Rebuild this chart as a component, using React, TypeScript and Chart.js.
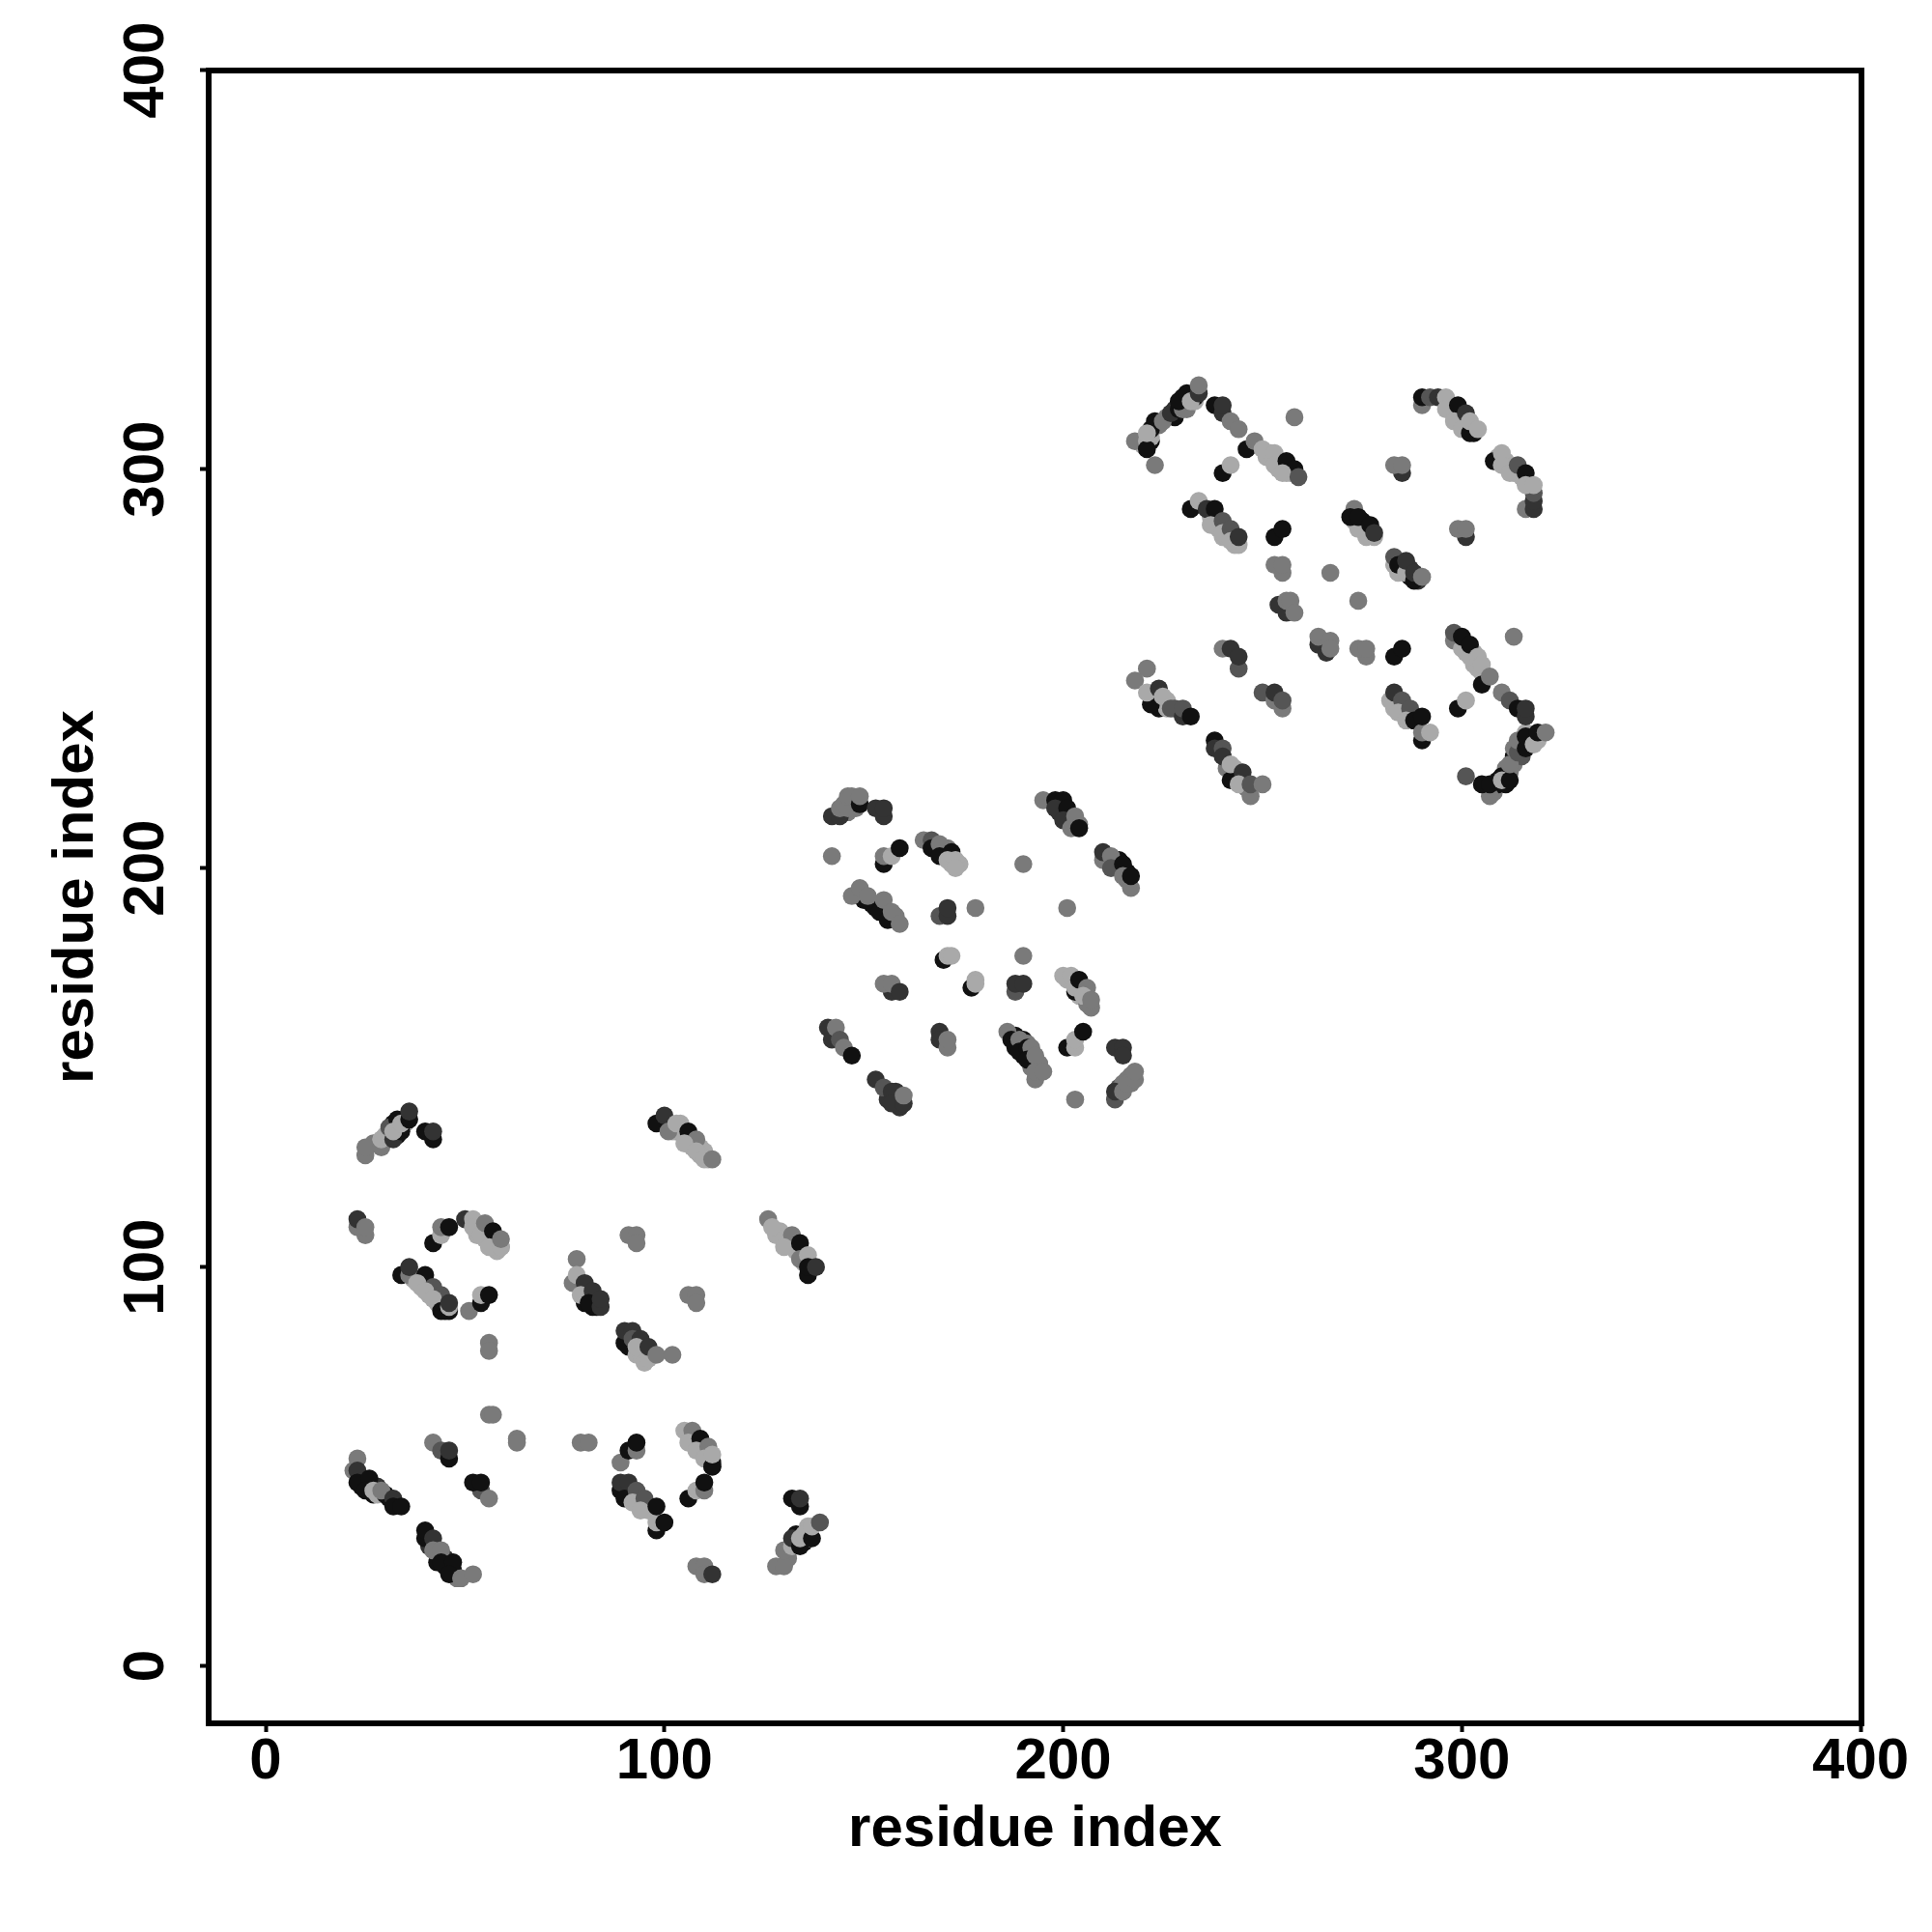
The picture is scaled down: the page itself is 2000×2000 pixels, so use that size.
import React, { useEffect, useRef } from "react";
import { Chart, registerables } from "chart.js";

Chart.register(...registerables);

const K = 17, D = 51, N = 85, M = 122, L = 169;

const tickValues = [0, 100, 200, 300, 400];
const axisTitle = "residue index";

const lobe1X = [
  25,25,29,29,32,31,34,33,32,34,36,36,40,42,42,
  98,100,101,103,106,108,105,108,110,112,
  25,23,23,25,
  42,44,44,46,50,52,52,54,55,57,56,59,59,
  34,36,36,40,38,42,40,44,42,44,46,46,46,
  51,54,54,56,
  56,56,
  78,77,78,80,79,82,81,84,84,
  91,93,93,
  106,108,108,
  126,127,130,132,130,134,134,136,136,136,138,
  90,90,92,92,94,93,96,96,98,102,
  56,57,
  63,63,
  79,81,
  42,44,46,46,
  89,91,93,93,
  105,107,106,109,108,111,110,112,112,
  106,108,110,110,
  22,23,23,23,26,25,27,29,32,32,34,
  54,56,52,54,
  40,40,42,42,44,44,47,46,49,52,
  89,91,90,93,92,95,94,98,98,98,100,
  108,110,110,112,
  132,134,134,128,130,130,132,132,134,134,135,137,137,139,
];
const lobe1Y = [
  128,130,130,132,132,135,134,137,134,136,137,139,134,132,134,
  136,138,134,136,134,132,131,129,127,127,
  108,110,112,110,
  106,108,110,110,112,112,110,108,111,109,105,105,107,
  98,98,100,98,96,95,94,93,92,89,89,90,91,
  89,91,93,93,
  81,79,
  102,96,98,96,93,94,91,90,92,
  108,108,106,
  93,93,91,
  112,110,107,108,105,106,102,103,98,100,100,
  81,84,84,82,82,80,77,80,78,78,
  63,63,
  57,56,
  56,56,
  56,54,52,54,
  51,54,54,56,
  59,59,56,57,54,55,52,50,53,
  42,44,44,46,
  49,52,49,46,47,44,44,44,42,40,40,
  44,42,46,46,
  32,34,32,29,29,26,26,23,22,23,
  46,46,42,44,41,42,39,34,36,40,36,
  25,25,23,23,
  42,40,42,25,25,29,30,32,30,32,33,32,35,36,
];
const lobe1Shade = [
  M,M,M,L,D,N,K,K,L,L,K,D,K,K,D,
  K,D,M,L,K,M,L,L,L,M,
  M,M,D,M,
  K,L,M,K,D,L,L,L,M,K,L,L,M,
  K,M,D,K,L,N,L,N,L,K,K,L,D,
  M,K,L,K,
  M,M,
  M,M,L,D,L,D,K,D,D,
  M,M,M,
  M,M,M,
  M,L,L,M,L,K,M,L,K,K,D,
  K,D,D,N,D,L,L,D,M,M,
  M,M,
  M,M,
  M,M,
  M,N,K,D,
  M,K,M,K,
  L,M,L,K,L,M,L,K,L,
  K,L,M,K,
  M,M,D,K,K,K,L,M,D,K,K,
  N,M,K,K,
  K,K,D,M,M,K,K,K,M,M,
  D,D,K,N,L,N,L,K,L,K,K,
  M,M,M,D,
  K,K,D,M,M,M,L,D,K,L,L,K,L,N,
];

const lobe2X = [
  142,144,144,146,146,147,149,149,
  153,155,155,
  142,
  155,155,157,159,
  165,167,167,169,169,172,171,173,173,
  147,149,152,154,151,155,156,157,159,
  169,171,171,
  178,190,201,190,
  170,171,172,
  177,178,178,
  188,188,190,
  157,155,157,159,
  203,200,202,203,204,206,205,207,207,
  141,142,143,144,145,147,
  169,169,171,171,
  153,155,157,157,160,160,
  186,187,189,189,191,192,191,193,193,193,195,
  201,203,203,205,
  203,
  213,215,215,
  213,213,215,216,218,218,
  195,198,200,198,201,200,203,202,204,
  210,210,212,212,215,215,217,217,
];
const lobe2Y = [
  213,213,215,215,218,218,216,218,
  215,213,215,
  203,
  201,203,203,205,
  207,207,205,206,203,204,202,202,200,
  193,195,191,189,193,192,187,189,186,
  188,188,190,
  190,201,190,178,
  177,178,178,
  170,172,171,
  169,171,171,
  169,171,171,169,
  169,173,173,170,172,170,168,165,167,
  160,157,160,157,155,153,
  159,157,155,157,
  147,145,144,141,141,143,
  159,157,157,154,155,155,152,153,147,149,149,
  155,155,157,159,
  142,
  155,155,153,
  142,144,144,146,147,149,
  217,217,217,215,215,212,213,210,210,
  202,204,203,200,201,198,195,198,
];
const lobe2Shade = [
  D,D,M,M,M,M,K,M,
  D,D,D,
  M,
  K,M,L,K,
  M,N,K,M,K,K,L,L,L,
  M,M,K,K,M,M,K,M,M,
  N,D,D,
  M,M,M,M,
  K,L,L,
  K,L,L,
  N,D,D,
  D,M,M,D,
  K,L,L,L,K,M,L,M,M,
  D,D,M,N,M,K,
  D,D,M,M,
  D,N,D,D,D,M,
  M,K,M,K,K,M,K,M,M,M,M,
  K,L,L,K,
  M,
  D,D,D,
  N,D,M,M,M,M,
  M,K,K,D,K,D,M,M,K,
  M,D,M,N,K,M,M,K,
];

const lobe3X = [
  218,221,221,223,222,223,221,225,227,229,230,229,231,232,234,234,
  238,240,240,242,244,
  258,
  240,242,
  246,248,250,253,253,256,258,255,259,
  232,234,236,238,237,240,240,242,242,244,
  253,255,
  255,253,255,
  267,274,
  254,256,256,257,258,
  264,264,266,267,267,
  276,274,276,
  283,285,
  240,244,242,244,
  250,253,255,253,255,
  218,221,222,221,224,225,227,230,230,232,
  238,238,240,240,242,242,245,244,247,247,250,
  273,276,274,272,274,277,278,
  283,283,284,286,286,288,288,290,
  290,290,292,294,296,296,299,298,301,300,302,302,304,
  285,283,285,
  316,318,318,318,308,310,310,312,314,316,316,318,
  301,299,301,
  313,
  298,298,300,302,300,302,304,305,305,307,
  299,301,
  310,312,314,316,316,
  282,283,285,284,287,286,288,290,290,290,292,
  301,307,305,307,310,310,312,312,314,314,316,316,318,319,321,
];
const lobe3Y = [
  307,307,305,301,310,312,309,312,314,315,315,317,319,317,319,321,
  316,314,316,312,310,
  313,
  299,301,
  305,307,305,304,301,302,300,299,298,
  290,292,290,290,286,287,284,285,282,283,
  283,285,
  274,276,276,
  274,267,
  266,264,267,267,264,
  256,258,254,257,255,
  253,255,255,
  253,255,
  255,250,255,253,
  244,242,240,244,242,
  247,250,241,244,245,243,240,238,240,238,
  232,230,230,228,222,226,224,221,218,221,221,
  290,283,285,288,288,286,284,
  276,278,276,274,277,272,274,273,
  316,318,318,318,318,315,316,312,314,310,309,312,310,
  299,301,301,
  290,290,292,294,302,304,301,299,301,299,296,296,
  283,285,285,
  258,
  257,259,255,253,258,256,253,251,246,248,
  240,242,
  244,242,240,238,240,
  242,244,242,239,240,237,237,232,234,238,234,
  223,218,221,221,223,222,222,226,229,232,230,233,231,234,234,
];
const lobe3Shade = [
  M,L,K,M,K,K,L,M,D,K,M,K,K,L,D,M,
  K,D,D,M,M,
  M,
  K,L,
  K,M,L,L,L,K,K,L,N,
  K,L,D,K,L,N,L,N,L,D,
  K,K,
  M,M,M,
  M,M,
  D,D,M,M,M,
  D,M,D,M,M,
  M,M,M,
  K,K,
  M,N,D,D,
  N,M,M,D,N,
  M,M,K,L,D,L,N,D,N,K,
  K,D,N,D,K,L,D,L,M,N,M,
  M,L,L,K,K,K,D,
  L,N,K,L,D,K,D,M,
  M,K,N,D,L,L,K,L,D,L,K,L,L,
  D,M,M,
  M,D,D,N,K,L,L,L,N,K,L,L,
  D,M,M,
  M,
  M,N,L,L,K,K,L,L,K,M,
  K,L,
  M,N,K,D,D,
  L,D,N,L,N,L,K,K,M,K,L,
  N,M,K,K,K,L,K,M,N,M,K,K,L,K,M,
];

// Contacts partly hidden beneath the visible ones, thickening the dense bands.
const hiddenX = [
  27,30,31,33,34,35,32,29,
  103,105,106,107,109,107,110,111,104,102,109,
  54,53,55,56,57,58,59,
  37,39,41,43,44,45,44,42,
  79,80,81,82,83,80,
  128,129,131,132,133,135,134,
  91,93,94,95,94,
  106,107,108,109,110,111,112,112,
  24,24,26,27,28,28,30,31,
  41,43,43,45,46,44,45,47,48,
  90,91,92,93,94,95,96,89,
  131,133,135,136,136,135,133,136,
  145,147,148,146,148,
  170,172,168,171,174,
  150,153,155,156,158,158,
  188,188,190,191,192,190,192,194,192,
  201,203,204,205,206,
  199,201,203,202,204,
  211,213,214,216,216,
  214,216,217,217,215,
  158,159,158,156,
  220,222,222,224,226,228,230,230,232,231,233,233,228,
  251,252,254,254,257,256,255,
  237,238,239,240,241,243,244,
  222,223,226,224,226,228,
  241,243,243,244,245,246,
  275,275,276,277,278,273,
  285,287,287,289,285,284,
  297,299,301,303,303,298,300,
  311,313,315,317,309,
  301,303,303,304,305,
  283,285,286,287,288,289,284,
  308,311,309,311,313,313,315,315,317,317,316,319,312,313,311,309,
];
const hiddenY = [
  131,133,133,133,135,136,136,132,
  134,133,132,130,130,132,129,127,136,134,128,
  110,108,107,106,105,104,105,
  97,95,93,91,90,89,91,94,
  95,93,92,90,90,91,
  108,109,106,105,104,101,104,
  80,78,78,76,80,
  58,57,56,55,53,52,51,50,
  47,45,45,43,43,45,43,42,
  30,28,26,25,24,28,27,24,22,
  44,43,43,41,41,40,39,44,
  27,31,31,32,34,33,33,35,
  216,216,217,214,215,
  204,201,206,205,201,
  192,190,189,188,187,188,
  158,155,157,156,153,153,150,151,151,
  172,172,168,169,166,
  214,213,211,212,211,
  203,201,202,199,197,
  145,147,146,148,146,
  142,140,144,142,
  306,307,308,311,313,315,316,318,318,315,317,318,313,
  303,304,302,300,299,299,301,
  288,287,285,283,283,281,281,
  243,242,242,240,240,240,
  225,225,223,222,222,220,
  285,287,285,284,283,287,
  275,273,275,272,276,274,
  316,312,311,310,309,314,313,
  302,299,298,296,303,
  254,254,251,250,249,
  240,239,239,238,238,237,241,
  219,221,222,225,228,226,228,231,231,233,234,232,224,230,223,221,
];
const hiddenShade = [
  M,L,K,K,L,L,K,L,
  M,L,L,L,L,L,L,L,L,L,L,
  L,L,L,L,L,L,L,
  L,L,L,L,L,K,L,L,
  L,L,L,K,K,K,
  L,L,L,L,L,L,L,
  K,L,L,L,L,
  L,L,L,L,L,L,K,D,
  D,K,K,K,L,D,K,K,
  D,M,K,K,K,L,D,K,M,
  L,L,L,L,L,L,L,K,
  M,K,K,L,K,L,K,L,
  M,M,M,M,M,
  L,L,M,M,L,
  K,K,K,K,K,M,
  K,K,K,M,K,K,M,M,M,
  L,L,L,M,M,
  D,D,M,M,M,
  M,M,K,K,M,
  N,M,M,M,M,
  D,D,D,D,
  L,K,L,M,M,D,K,K,L,M,L,K,K,
  L,L,L,L,L,L,L,
  L,L,L,L,L,L,L,
  L,L,L,K,L,N,
  M,L,D,M,L,M,
  L,K,K,L,L,L,
  K,K,D,D,D,L,
  L,L,L,L,K,L,D,
  L,L,L,L,L,
  L,L,L,L,L,
  L,L,L,K,K,K,L,
  M,K,K,M,K,M,N,K,K,L,L,L,M,M,K,K,
];

const grey = (v: number) => `rgb(${v},${v},${v})`;
const lobe = (xs: number[], ys: number[], shades: number[]) => ({
  data: xs.map((x, i) => ({ x, y: ys[i] })),
  backgroundColor: shades.map(grey),
  pointBackgroundColor: shades.map(grey),
  pointBorderWidth: 0,
  pointRadius: 9.3,
  pointHoverRadius: 9.3,
  showLine: false,
  clip: false as const,
});

const frame = {
  id: "frame",
  afterDraw(chart: any) {
    const { ctx, chartArea: a } = chart;
    ctx.save();
    ctx.strokeStyle = "#000";
    ctx.lineWidth = 6;
    ctx.lineJoin = "miter";
    ctx.strokeRect(a.left, a.top, a.right - a.left, a.bottom - a.top);
    ctx.restore();
  },
};

const fontSpec = { family: "'Liberation Sans'", size: 60, weight: "bold" as const };

const axisCommon = {
  type: "linear" as const,
  grid: {
    display: true,
    drawOnChartArea: false,
    drawTicks: true,
    tickLength: 9,
    tickWidth: 4,
    tickColor: "#000",
  },
  border: { display: false },
  afterBuildTicks(scale: any) {
    scale.ticks = tickValues.map((value) => ({ value }));
  },
};

export default function App() {
  const ref = useRef<HTMLCanvasElement>(null);
  useEffect(() => {
    const chart = new Chart(ref.current!, {
      type: "scatter",
      data: {
        // Chart.js paints the last dataset first, so the hidden contacts go last.
        datasets: [
          lobe(lobe1X, lobe1Y, lobe1Shade),
          lobe(lobe2X, lobe2Y, lobe2Shade),
          lobe(lobe3X, lobe3Y, lobe3Shade),
          lobe(hiddenX, hiddenY, hiddenShade),
        ],
      },
      plugins: [frame],
      options: {
        animation: false,
        responsive: false,
        devicePixelRatio: 1,
        layout: { padding: { left: 0, top: 73, right: 73, bottom: 0 } },
        plugins: { legend: { display: false }, tooltip: { enabled: false } },
        scales: {
          x: {
            ...axisCommon,
            min: -14.3,
            max: 400.2,
            afterFit(scale: any) {
              scale.height = 216;
            },
            ticks: {
              autoSkip: false,
              maxRotation: 0,
              minRotation: 0,
              padding: -5,
              color: "#000",
              font: fontSpec,
              callback: (v: any) => String(v),
            },
            title: {
              display: true,
              text: axisTitle,
              color: "#000",
              font: fontSpec,
              padding: { top: 0, bottom: 70 },
            },
          },
          y: {
            ...axisCommon,
            min: -14.36,
            max: 399.9,
            afterFit(scale: any) {
              scale.width = 216;
            },
            ticks: {
              autoSkip: false,
              minRotation: 90,
              maxRotation: 90,
              crossAlign: "center",
              padding: 4,
              color: "#000",
              font: fontSpec,
              callback: (v: any) => String(v),
            },
            title: {
              display: true,
              text: axisTitle,
              color: "#000",
              font: fontSpec,
              padding: { top: 43, bottom: 0 },
            },
          },
        },
      },
    } as any);
    return () => chart.destroy();
  }, []);
  return (
    <canvas
      ref={ref}
      width={2000}
      height={2000}
      style={{ position: "absolute", left: 0, top: 0, display: "block", background: "#fff" }}
    />
  );
}
